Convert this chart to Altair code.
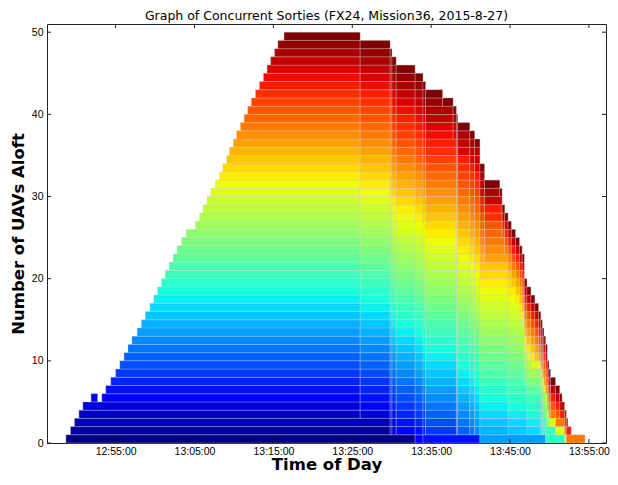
import altair as alt
import pandas as pd

# ---- data (one entry per UAV, in launch order) ----
launch_times = [
    "12:48:42", "12:49:17", "12:49:47", "12:50:21", "12:50:51", "12:51:53", "12:53:15", "12:53:45", "12:54:23", "12:55:00",
    "12:55:32", "12:56:04", "12:56:34", "12:57:04", "12:57:44", "12:58:16", "12:58:46", "12:59:21", "12:59:51", "13:00:18",
    "13:00:48", "13:01:18", "13:01:47", "13:02:17", "13:02:47", "13:03:22", "13:03:57", "13:05:07", "13:05:39", "13:06:06",
    "13:06:36", "13:07:04", "13:07:38", "13:08:11", "13:08:36", "13:09:06", "13:09:26", "13:09:56", "13:10:20", "13:10:50",
    "13:11:18", "13:11:45", "13:12:12", "13:12:44", "13:13:14", "13:13:44", "13:14:12", "13:14:39", "13:15:09", "13:15:34",
    "13:16:21",
]
land_times = [
    "13:32:58", "13:29:48", "13:30:02", "13:26:00", "13:30:34", "12:52:43", "13:33:58", "13:41:11", "13:34:18", "13:38:12",
    "13:38:22", "13:39:54", "13:40:31", "13:41:11", "13:49:31", "13:44:45", "13:47:09", "13:48:54", "13:49:06", "13:49:18",
    "13:51:55", "13:50:46", "13:46:49", "13:49:44", "13:46:49", "13:49:44", "13:46:49", "13:49:56", "13:47:39", "13:46:32",
    "13:46:12", "13:52:08", "13:45:42", "13:48:09", "13:45:10", "13:48:37", "13:41:46", "13:50:08", "13:44:20", "13:54:30",
    "13:44:00", "13:51:18", "13:41:11", "13:44:00", "13:52:45", "13:37:47", "13:41:46", "13:52:20", "13:43:42", "13:36:27",
    "13:51:36",
]
x_tick_labels = ["12:55:00", "13:05:00", "13:15:00", "13:25:00", "13:35:00", "13:45:00", "13:55:00"]
y_ticks = [0, 10, 20, 30, 40, 50]
x_limits = ["12:46:18", "13:57:10"]
y_limits = [0, 51]
title_text = "Graph of Concurrent Sorties (FX24, Mission36, 2015-8-27)"


def to_sec(s):
    h, m, sec = (int(p) for p in s.split(":"))
    return h * 3600 + m * 60 + sec


L = [to_sec(s) for s in launch_times]
E = [to_sec(s) for s in land_times]
n = len(L)
pts = sorted(set(L + E))

# stack the aloft UAVs (in launch order) between consecutive events
rows = []
for i in range(n):
    cur = None
    for a, b in zip(pts[:-1], pts[1:]):
        if L[i] <= a and b <= E[i]:
            pos = sum(1 for j in range(i) if L[j] <= a and b <= E[j])
            if cur is not None and cur["pos"] == pos and cur["x2"] == a:
                cur["x2"] = b
            else:
                if cur is not None:
                    rows.append(cur)
                cur = {"uav": i, "pos": pos, "x": a, "x2": b}
    if cur is not None:
        rows.append(cur)
df = pd.DataFrame(rows)
df["pos2"] = df["pos"] + 1

x_tick_secs = [to_sec(s) for s in x_tick_labels]
xt = pd.DataFrame({"t": x_tick_secs})
yt = pd.DataFrame({"v": y_ticks})

x_scale = alt.Scale(domain=[to_sec(x_limits[0]), to_sec(x_limits[1])], nice=False, zero=False)
y_scale = alt.Scale(domain=y_limits, nice=False, zero=False)

jet_stops = [0, 0.11, 0.125, 0.34, 0.35, 0.375, 0.64, 0.65, 0.66, 0.89, 0.91, 1]
jet_colors = ["#000080", "#0000ff", "#0000ff", "#00dbff", "#00e6f7", "#15ffe2",
              "#eeff08", "#f7f600", "#ffec00", "#ff1300", "#e80000", "#800000"]
color_scale = alt.Scale(domain=[v * (n - 1) for v in jet_stops], range=jet_colors, interpolate="rgb")

W, H = 559, 419

x_axis = alt.Axis(values=x_tick_secs,
                  labelExpr="timeFormat(datetime(2015, 7, 27, 0, 0, datum.value), '%H:%M:%S')",
                  title="Time of Day", labelPadding=3, labelFlush=False,
                  titleY=26.5, titleBaseline="alphabetic")
y_axis = alt.Axis(values=y_ticks, title="Number of UAVs Aloft", labelPadding=4, labelFlush=False,
                  titleX=-24, titleBaseline="alphabetic")

bars = alt.Chart(df).mark_rect(stroke="#c8c8c8", strokeWidth=0.6, strokeOpacity=0.55).encode(
    x=alt.X("x:Q", scale=x_scale, axis=x_axis),
    x2="x2:Q",
    y=alt.Y("pos:Q", scale=y_scale, axis=y_axis),
    y2="pos2:Q",
    color=alt.Color("uav:Q", scale=color_scale, legend=None),
)

tick_color = "#222222"
xb = alt.Chart(xt).mark_rule(color=tick_color, strokeWidth=1).encode(
    x=alt.X("t:Q", scale=x_scale, axis=x_axis), y=alt.value(H), y2=alt.value(H - 4))
xtop = alt.Chart(xt).mark_rule(color=tick_color, strokeWidth=1).encode(
    x=alt.X("t:Q", scale=x_scale, axis=x_axis), y=alt.value(0), y2=alt.value(4))
yl = alt.Chart(yt).mark_rule(color=tick_color, strokeWidth=1).encode(
    y=alt.Y("v:Q", scale=y_scale, axis=y_axis), x=alt.value(0), x2=alt.value(4))
yr = alt.Chart(yt).mark_rule(color=tick_color, strokeWidth=1).encode(
    y=alt.Y("v:Q", scale=y_scale, axis=y_axis), x=alt.value(W), x2=alt.value(W - 4))

chart = alt.layer(bars, xb, xtop, yl, yr).properties(
    width=W,
    height=H,
    title=alt.TitleParams(title_text, fontSize=12.5, font="DejaVu Sans", fontWeight="normal",
                          offset=1, anchor="middle", color="black"),
    autosize=alt.AutoSizeParams(type="none"),
    padding={"left": 39, "top": 16, "right": 4, "bottom": 30},
).configure_view(
    stroke="#222222", strokeWidth=1
).configure_axis(
    domain=False, ticks=False, grid=False,
    labelFont="Liberation Sans", labelFontSize=10.5, labelColor="black",
    titleFont="DejaVu Sans", titleFontWeight="bold", titleFontSize=16.5, titleColor="black",
)

chart.save("out.html", embed_options={"renderer": "svg", "actions": False})
